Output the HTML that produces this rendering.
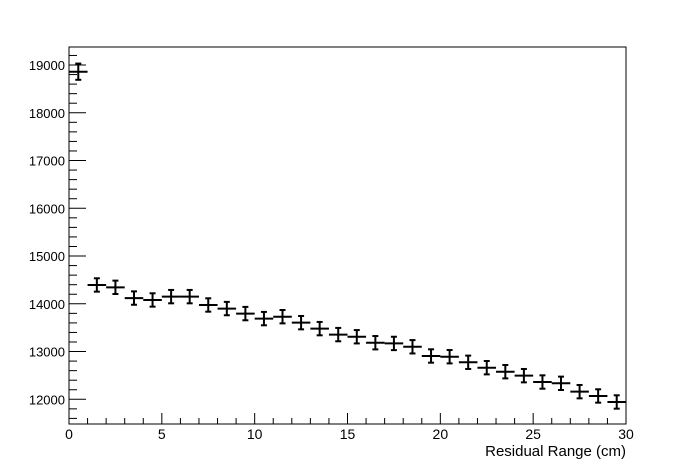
<!DOCTYPE html>
<html><head><meta charset="utf-8"><style>
html,body{margin:0;padding:0;background:#fff;}
svg{display:block;font-family:"Liberation Sans",Arial,sans-serif;}
</style></head><body>
<svg id="chart" width="696" height="472" viewBox="0 0 696 472" xmlns="http://www.w3.org/2000/svg">
<rect x="0" y="0" width="696" height="472" fill="#fff"/>
<g id="axes"></g>
<g id="marks"></g>
<text x="626" y="456" text-anchor="end" font-size="15">Residual Range (cm)</text>
</svg>
<script>
const binCenters = [0.5,1.5,2.5,3.5,4.5,5.5,6.5,7.5,8.5,9.5,10.5,11.5,12.5,13.5,14.5,15.5,16.5,17.5,18.5,19.5,20.5,21.5,22.5,23.5,24.5,25.5,26.5,27.5,28.5,29.5];
const values = [18860,14394,14345,14120,14080,14150,14150,13975,13900,13795,13690,13730,13605,13480,13355,13310,13185,13170,13100,12907,12892,12775,12662,12578,12495,12362,12335,12160,12070,11944];
const errors = [170,140,140,140,140,140,140,140,140,140,140,140,140,140,140,140,140,140,140,140,140,140,140,140,140,140,140,140,140,140];
const xTicks = [0,5,10,15,20,25,30];
const yTicks = [12000,13000,14000,15000,16000,17000,18000,19000];
const binHalfWidth = 0.5;

const L=69,R=626,T=47,B=424;
const xMin=0,xMax=30,yMin=11483,yMax=19377;
const sx=v=>L+(v-xMin)/(xMax-xMin)*(R-L);
const sy=v=>B-(v-yMin)/(yMax-yMin)*(B-T);
const NS="http://www.w3.org/2000/svg";
function mk(tag,attrs,parent){const e=document.createElementNS(NS,tag);for(const k in attrs)e.setAttribute(k,attrs[k]);parent.appendChild(e);return e;}
const axes=document.getElementById('axes'), marks=document.getElementById('marks');

const frame=mk('rect',{x:L,y:T,width:R-L,height:B-T,fill:'none',stroke:'#000','stroke-width':1},axes);



for(let v=xMin; v<=xMax; v+=1){
  const major = v%5===0;
  const t=mk('line',{x1:sx(v),x2:sx(v),y1:B,y2:B-(major?11:6),stroke:'#000','stroke-width':1},axes);
  
  
}
xTicks.forEach(v=>{
  const t=mk('text',{x:sx(v),y:B+15,'text-anchor':'middle','font-size':14},axes);
  t.textContent=v;
  
  
});
for(let v=11600; v<=yMax; v+=200){
  const major = v%1000===0;
  const t=mk('line',{x1:L,x2:L+(major?17:8),y1:sy(v),y2:sy(v),stroke:'#000','stroke-width':1},axes);
  
  
}
yTicks.forEach(v=>{
  const t=mk('text',{x:65,y:sy(v)+5,'text-anchor':'end','font-size':13},axes);
  t.textContent=v;
  
  
});
binCenters.forEach((c,i)=>{
  const g=mk('g',{stroke:'#000','stroke-width':2,fill:'none'},marks);
  
  
  const y=sy(values[i]);
  const x1=Math.max(L,sx(c-binHalfWidth)), x2=Math.min(R,sx(c+binHalfWidth)), xc=sx(c);
  mk('line',{x1:x1,x2:x2,y1:y,y2:y},g);
  const yt=sy(values[i]+errors[i]), yb=sy(values[i]-errors[i]);
  mk('line',{x1:xc,x2:xc,y1:yt,y2:yb},g);
  mk('line',{x1:xc-3,x2:xc+3,y1:yt,y2:yt},g);
  mk('line',{x1:xc-3,x2:xc+3,y1:yb,y2:yb},g);
});
</script>
</body></html>
